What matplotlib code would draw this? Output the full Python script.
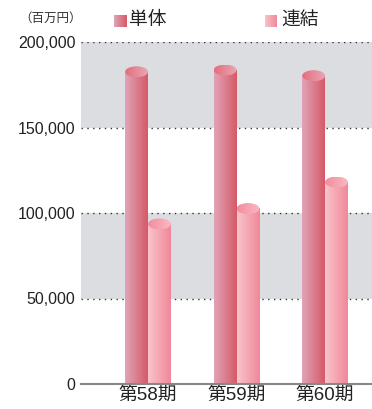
import numpy as np
import matplotlib
matplotlib.use('Agg')
import matplotlib.pyplot as plt
from matplotlib.colors import LinearSegmentedColormap
from matplotlib.patches import Ellipse

plt.rcParams['font.family'] = ['Liberation Sans', 'Noto Sans CJK JP']

# data (百万円)
periods = ['第58期', '第59期', '第60期']
tantai = [182600, 183600, 180300]
renketsu = [93600, 102600, 118100]
series_names = ['単体', '連結']
yticks = [0, 50000, 100000, 150000, 200000]

# gradient colours (left -> right)
body_cols = [['#e0a4b7', '#d65a68'], ['#f9c4ca', '#f0889a']]
top_cols = [['#e26e7c', '#e9a6b3'], ['#f38d9d', '#f9b8c3']]

fig = plt.figure(figsize=(3.72, 4.09), dpi=100)
ax = fig.add_axes([81/372, 25/409, 1 - 81/372, (384 - 42)/409])

# grey bands and dotted grid
ax.axhspan(150000, 200000, color='#dcdde0', lw=0, zorder=0)
ax.axhspan(50000, 100000, color='#dcdde0', lw=0, zorder=0)
for y in yticks[1:]:
    ax.axhline(y, color='#333333', lw=1.0, ls=(0, (1, 3.2)), zorder=1)

bw = 0.258
ell_h = 6400
grad = np.linspace(0, 1, 64).reshape(1, -1)


def cylinder(xl, val, k):
    cm_b = LinearSegmentedColormap.from_list('b', body_cols[k])
    cm_t = LinearSegmentedColormap.from_list('t', top_cols[k])
    ax.imshow(grad, cmap=cm_b, extent=[xl, xl + bw, 0, val],
              aspect='auto', zorder=2, interpolation='bilinear')
    e = Ellipse((xl + bw/2, val), bw, ell_h, facecolor='none', edgecolor='none',
                zorder=3)
    ax.add_patch(e)
    im = ax.imshow(grad, cmap=cm_t,
                   extent=[xl, xl + bw, val - ell_h/2, val + ell_h/2],
                   aspect='auto', zorder=3, interpolation='bilinear')
    im.set_clip_path(e)


x = np.arange(len(periods))
for i in range(len(periods)):
    cylinder(x[i] - bw, tantai[i], 0)
    cylinder(x[i], renketsu[i], 1)

ax.set_xlim(-0.757, 2.53)
ax.set_ylim(0, 200000)

for s in ['left', 'right', 'top']:
    ax.spines[s].set_visible(False)
ax.spines['bottom'].set_color('#888888')
ax.spines['bottom'].set_linewidth(1.5)
ax.spines['bottom'].set_zorder(4)

ax.set_yticks(yticks)
ax.set_yticklabels(['{:,}'.format(v) for v in yticks], fontsize=11.5, color='#222222')
ax.set_xticks(x)
ax.set_xticklabels(periods, fontsize=13.5, color='#222222')
ax.tick_params(axis='both', length=0)
ax.tick_params(axis='y', pad=4)
ax.tick_params(axis='x', pad=3)

# unit label
fig.text(51/372, 1 - 18/409, '（百万円）', fontsize=9, color='#333333',
         ha='center', va='center', family='Noto Sans CJK JP')

# legend
for k, (lx, tx) in enumerate([(114, 129), (265, 281)]):
    lax = fig.add_axes([lx/372, 1 - 27/409, 12/372, 12/409])
    lax.imshow(grad, cmap=LinearSegmentedColormap.from_list('l', body_cols[k]),
               aspect='auto', extent=[0, 1, 0, 1])
    lax.axis('off')
    fig.text(tx/372, 1 - 20.5/409, series_names[k], fontsize=13.5, color='#222222',
             ha='left', va='center')

fig.savefig('out.png', dpi=100)
